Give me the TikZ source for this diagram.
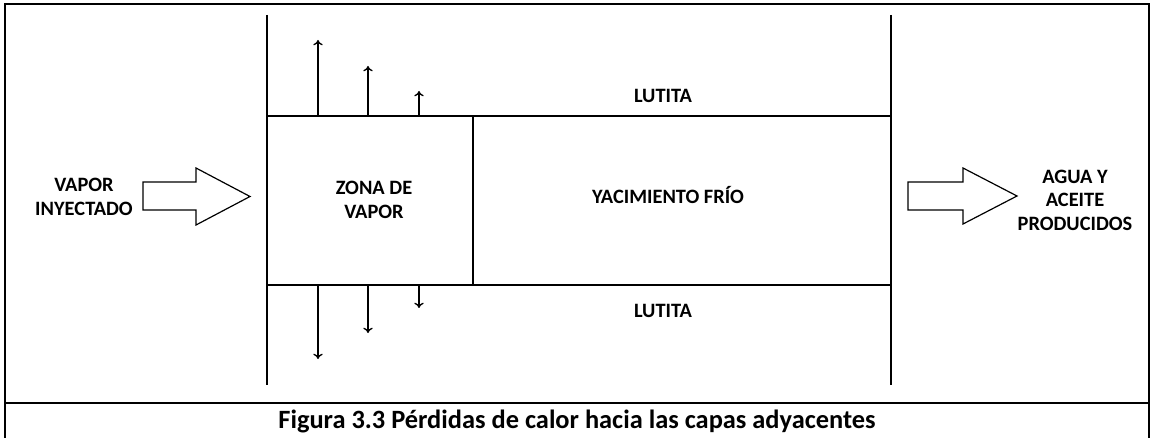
\documentclass[tikz,border=0pt]{standalone}
\usepackage{fontspec}
\setmainfont{Carlito}
\usetikzlibrary{arrows.meta}

\tikzset{
  label text/.style={font=\bfseries\fontsize{15.3}{17.6}\selectfont, align=center, inner sep=0.75pt},
  thin line/.style={line width=1pt},
  heat arrow/.style={line width=1pt, -{To[length=4pt,width=7pt]}},
  frame line/.style={line width=2.2pt},
  block arrow/.style={line width=0.9pt, fill=white}
}

\begin{document}
\begin{tikzpicture}[x=0.75pt,y=0.75pt,yscale=-1,xscale=1]
\useasboundingbox (0,0) rectangle (1153,438);

%Frame
\draw [frame line] (5,438) -- (5,4) -- (1149,4) -- (1149,438) ;
\draw [frame line] (5,403) -- (1149,403) ;

%Straight Lines: walls
\draw [thin line] (267,15) -- (267,385) ;
\draw [thin line] (891,15) -- (891,385) ;
%Straight Lines: layers
\draw [thin line] (267,116) coordinate (topL) -- (891,116) coordinate (topR) ;
\draw [thin line] (267,285) coordinate (botL) -- (891,285) coordinate (botR) ;
\draw [thin line] (473,116) -- (473,285) ;

%Heat losses up
\coordinate (up1) at (318,40) ;
\coordinate (up2) at (368,66) ;
\coordinate (up3) at (419,91) ;
\draw [heat arrow] (318,116) -- (up1) ;
\draw [heat arrow] (368,116) -- (up2) ;
\draw [heat arrow] (419,116) -- (up3) ;
%Heat losses down
\coordinate (dn1) at (318,359) ;
\coordinate (dn2) at (368,333) ;
\coordinate (dn3) at (419,308) ;
\draw [heat arrow] (318,285) -- (dn1) ;
\draw [heat arrow] (368,285) -- (dn2) ;
\draw [heat arrow] (419,285) -- (dn3) ;

%Shape: Right Arrow (in)
\draw [block arrow] (143,182) -- (196,182) -- (196,168) -- (250,196.5) -- (196,225) -- (196,210) -- (143,210) -- cycle ;
%Shape: Right Arrow (out)
\draw [block arrow] (908,182) -- (963,182) -- (963,168) -- (1017,196) -- (963,224) -- (963,210) -- (908,210) -- cycle ;

% Text Node
\node [label text] (vapin) at (84,197) {VAPOR\\INYECTADO};
% Text Node
\node [label text] (zona) at (374,200) {ZONA DE\\VAPOR};
% Text Node
\node [label text] (yac) at (668,195) {YACIMIENTO FRÍO};
% Text Node
\node [label text] (lutA) at (663,96) {LUTITA};
% Text Node
\node [label text] (lutB) at (663,311) {LUTITA};
% Text Node
\node [label text] (prod) at (1075,200) {AGUA Y\\ACEITE\\PRODUCIDOS};
% Text Node
\node [font=\bfseries\fontsize{19.8}{23}\selectfont, inner sep=0.75pt] (cap) at (577,421) {Figura 3.3 Pérdidas de calor hacia las capas adyacentes};

\end{tikzpicture}
\end{document}
